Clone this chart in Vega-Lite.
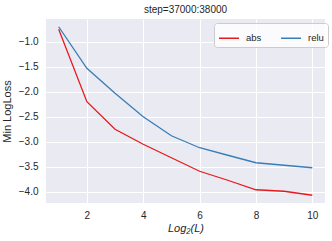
{
  "$schema": "https://vega.github.io/schema/vega-lite/v6.json",
  "width": 279,
  "height": 184,
  "autosize": {"type": "none"},
  "padding": {"left": 46, "top": 19, "right": 7, "bottom": 38},
  "background": "white",
  "title": {"text": "step=37000:38000", "fontSize": 10, "font": "Liberation Sans", "fontWeight": "normal", "color": "#262626", "offset": 4},
  "config": {
    "view": {"fill": "#EAEAF2", "stroke": null},
    "axis": {"gridColor": "white", "gridWidth": 1, "domain": false, "ticks": false, "labelFont": "Liberation Sans", "labelFontSize": 10, "labelColor": "#262626", "titleFont": "Liberation Sans", "titleFontSize": 11, "titleColor": "#262626", "titleFontWeight": "normal"}
  },
  "data": {"values": [
    {"x": 1, "series": "abs", "y": -0.75},
    {"x": 2, "series": "abs", "y": -2.2},
    {"x": 3, "series": "abs", "y": -2.75},
    {"x": 4, "series": "abs", "y": -3.05},
    {"x": 5, "series": "abs", "y": -3.32},
    {"x": 6, "series": "abs", "y": -3.59},
    {"x": 7, "series": "abs", "y": -3.77},
    {"x": 8, "series": "abs", "y": -3.96},
    {"x": 9, "series": "abs", "y": -3.99},
    {"x": 10, "series": "abs", "y": -4.07},
    {"x": 1, "series": "relu", "y": -0.70},
    {"x": 2, "series": "relu", "y": -1.53},
    {"x": 3, "series": "relu", "y": -2.03},
    {"x": 4, "series": "relu", "y": -2.50},
    {"x": 5, "series": "relu", "y": -2.88},
    {"x": 6, "series": "relu", "y": -3.12},
    {"x": 7, "series": "relu", "y": -3.27},
    {"x": 8, "series": "relu", "y": -3.42},
    {"x": 9, "series": "relu", "y": -3.47},
    {"x": 10, "series": "relu", "y": -3.52}
  ]},
  "mark": {"type": "line", "strokeWidth": 1.3},
  "encoding": {
    "x": {"field": "x", "type": "quantitative", "scale": {"domain": [0.55, 10.45], "nice": false, "zero": false},
      "axis": {"values": [2, 4, 6, 8, 10], "title": "Log₂(L)", "titleFontStyle": "italic", "labelPadding": 7, "titlePadding": 2, "labelFlush": false}},
    "y": {"field": "y", "type": "quantitative", "scale": {"domain": [-4.225, -0.545], "nice": false, "zero": false},
      "axis": {"values": [-1, -1.5, -2, -2.5, -3, -3.5, -4], "format": ".1f", "title": "Min LogLoss", "labelPadding": 8, "titlePadding": 6, "labelFlush": false}},
    "color": {"field": "series", "type": "nominal",
      "scale": {"domain": ["abs", "relu"], "range": ["#e41a1c", "#377eb8"]},
      "legend": {"title": null, "orient": "none", "legendX": 168, "legendY": 4, "direction": "horizontal", "columns": 2, "symbolType": "stroke", "symbolSize": 400, "symbolStrokeWidth": 1.5, "labelFont": "Liberation Sans", "labelFontSize": 9.5, "labelColor": "#262626", "fillColor": "rgba(255,255,255,0.8)", "strokeColor": "#cccccc", "cornerRadius": 3, "padding": 4, "columnPadding": 16, "labelOffset": 6}
    }
  }
}
